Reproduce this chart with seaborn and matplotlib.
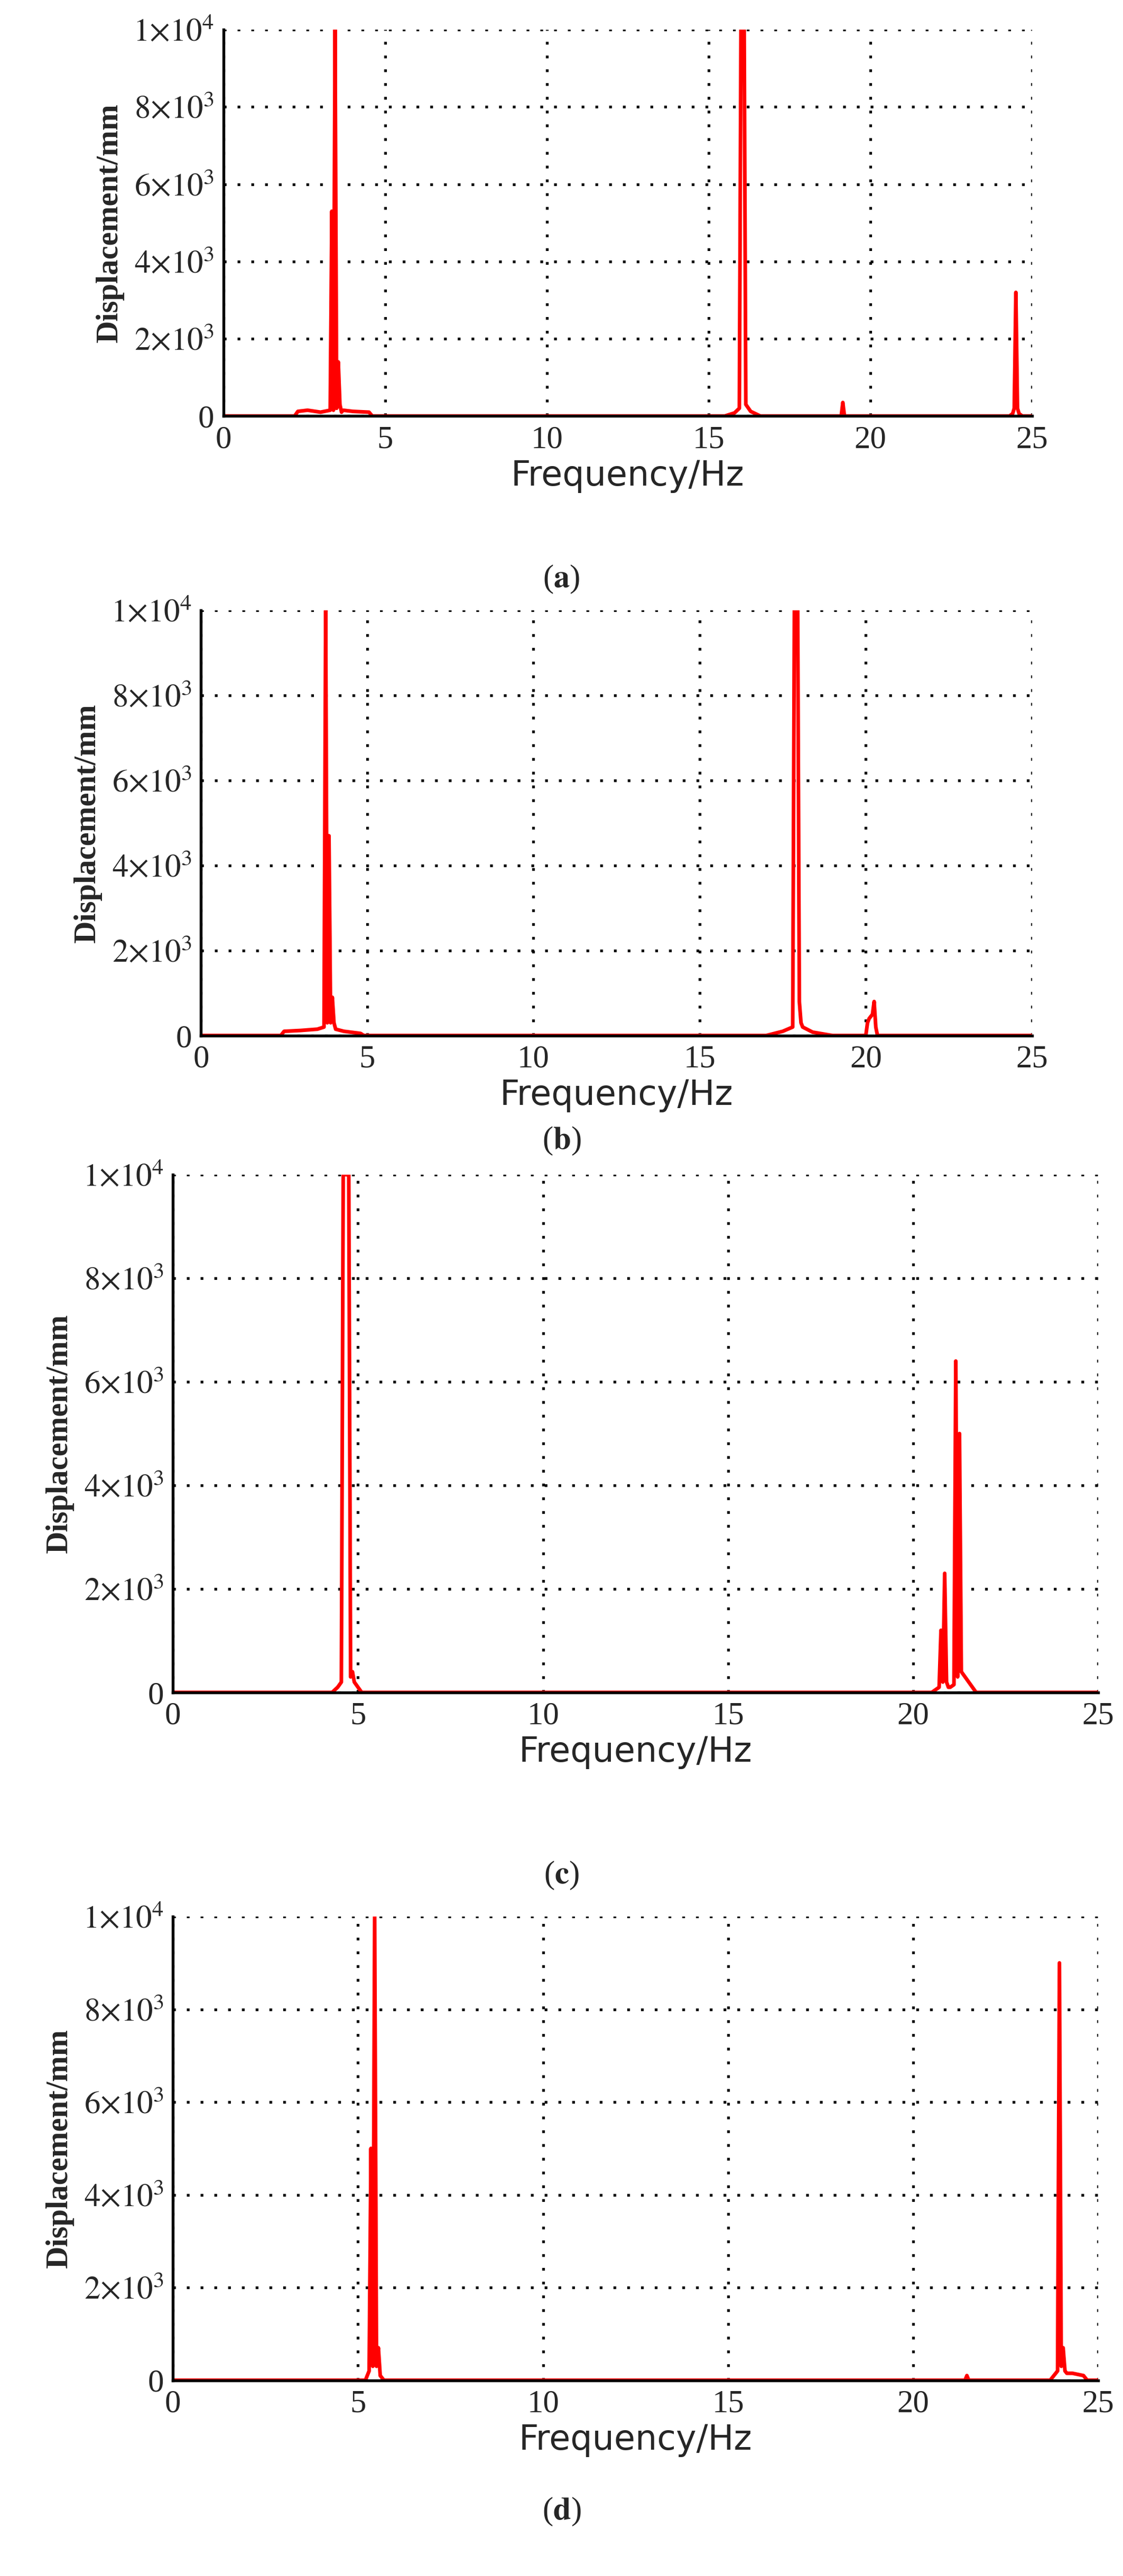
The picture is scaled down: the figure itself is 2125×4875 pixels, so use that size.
import matplotlib
matplotlib.use("Agg")
import matplotlib.pyplot as plt
import seaborn as sns
import pandas as pd

sns.set_theme(style="white")
plt.rcParams['font.family'] = ['Liberation Serif', 'DejaVu Serif']
plt.rcParams['mathtext.fontset'] = 'stix'

# Spectrum samples (frequency Hz, displacement mm)
freq_a = [0, 2.2, 2.3, 2.6, 3.0, 3.3, 3.35, 3.4, 3.45, 3.5, 3.55, 3.6, 3.65, 3.7, 4.0, 4.5, 4.6, 15.5, 15.8, 15.95, 16.0, 16.05, 16.1, 16.15, 16.3, 16.6, 19.1, 19.15, 19.2, 19.25, 24.3, 24.4, 24.45, 24.5, 24.55, 24.6, 24.7, 25]
disp_a = [0, 0, 120, 150, 100, 150, 5300, 150, 10000, 200, 1400, 300, 100, 150, 120, 100, 0, 0, 80, 200, 10000, 10000, 10000, 300, 120, 0, 0, 350, 0, 0, 0, 60, 200, 3200, 200, 60, 0, 0]
freq_b = [0, 2.4, 2.5, 3.0, 3.5, 3.7, 3.75, 3.8, 3.85, 3.9, 3.95, 4.0, 4.05, 4.3, 4.8, 4.9, 17.0, 17.5, 17.8, 17.85, 17.9, 17.95, 18.0, 18.05, 18.1, 18.4, 19.0, 20.0, 20.05, 20.1, 20.2, 20.25, 20.3, 20.35, 25]
disp_b = [0, 0, 100, 120, 150, 200, 10000, 300, 4700, 300, 900, 300, 150, 100, 50, 0, 0, 100, 200, 10000, 10000, 10000, 800, 300, 200, 80, 0, 0, 300, 400, 500, 800, 200, 0, 0]
freq_c = [0, 4.3, 4.45, 4.55, 4.6, 4.65, 4.7, 4.75, 4.8, 4.85, 4.9, 5.1, 20.5, 20.7, 20.75, 20.8, 20.85, 20.9, 20.95, 21.0, 21.1, 21.15, 21.2, 21.25, 21.3, 21.4, 21.6, 21.7, 25]
disp_c = [0, 0, 100, 200, 10000, 10000, 10000, 10000, 300, 400, 200, 0, 0, 100, 1200, 200, 2300, 200, 100, 100, 150, 6400, 300, 5000, 400, 300, 100, 0, 0]
freq_d = [0, 5.2, 5.3, 5.35, 5.4, 5.45, 5.5, 5.55, 5.6, 5.7, 21.4, 21.45, 21.5, 23.7, 23.8, 23.9, 23.95, 24.0, 24.05, 24.1, 24.15, 24.3, 24.6, 24.7, 25]
disp_d = [0, 0, 200, 5000, 300, 10000, 300, 700, 100, 0, 0, 100, 0, 0, 100, 200, 9000, 300, 700, 200, 150, 150, 100, 0, 0]

x_ticks = [0, 5, 10, 15, 20, 25]
y_ticks = [0, 2000, 4000, 6000, 8000, 10000]
y_tick_labels = ['0', r'$2{\times}10^3$', r'$4{\times}10^3$', r'$6{\times}10^3$', r'$8{\times}10^3$', r'$1{\times}10^4$']
captions = ['a', 'b', 'c', 'd']

panels = [
    (freq_a, disp_a, [0.199, 0.8385, 0.72, 0.150], 0.775),
    (freq_b, disp_b, [0.179, 0.598, 0.74, 0.165], 0.557),
    (freq_c, disp_c, [0.154, 0.343, 0.824, 0.201], 0.272),
    (freq_d, disp_d, [0.154, 0.076, 0.824, 0.180], 0.025),
]

fig = plt.figure(figsize=(6.8, 15.6), dpi=312.5)
for (fx, fy, rect, cap_y), cap in zip(panels, captions):
    ax = fig.add_axes(rect)
    df = pd.DataFrame({'Frequency': fx, 'Displacement': fy})
    sns.lineplot(data=df, x='Frequency', y='Displacement', sort=False,
                 color='red', linewidth=1.6, ax=ax, estimator=None)
    ax.set_xlim(0, 25)
    ax.set_ylim(0, 10000)
    ax.set_xticks(x_ticks)
    ax.set_yticks(y_ticks)
    ax.set_yticklabels(y_tick_labels)
    ax.tick_params(labelsize=14, length=0, pad=4)
    ax.grid(True, color='black', linestyle=(0, (1, 4)), linewidth=1.2)
    for s in ['top', 'right']:
        ax.spines[s].set_visible(False)
    ax.spines['left'].set_color('black')
    ax.spines['bottom'].set_color('black')
    ax.set_xlabel('Frequency/Hz', fontsize=15, family=['DejaVu Sans'], labelpad=2)
    ax.set_ylabel('Displacement/mm', fontsize=13.5, fontweight='bold', labelpad=4)
    fig.text(0.5, cap_y, '(' + r'$\mathbf{' + cap + '}$' + ')', fontsize=14,
             ha='center', va='center')

fig.savefig('out.png', dpi=312.5)
